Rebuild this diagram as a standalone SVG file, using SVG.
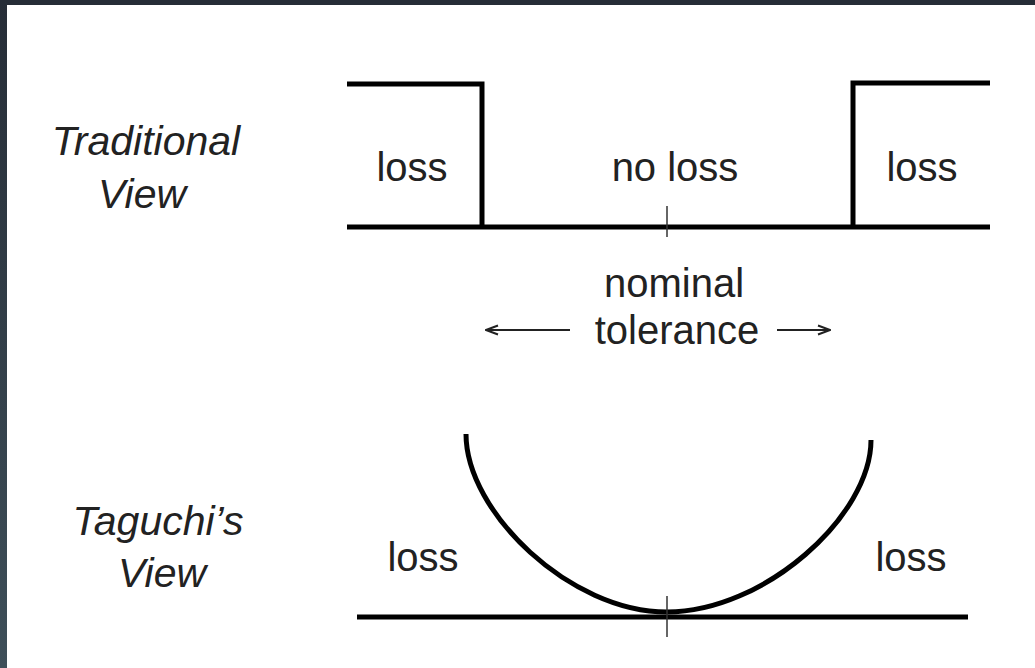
<svg xmlns="http://www.w3.org/2000/svg" width="1035" height="668" viewBox="0 0 1035 668">
  <defs>
    <linearGradient id="edge" x1="0" y1="0" x2="0" y2="1">
      <stop offset="0" stop-color="#262d37"/>
      <stop offset="1" stop-color="#3e4f59"/>
    </linearGradient>
    <marker id="arr" viewBox="0 0 14 12" refX="13" refY="6" markerWidth="14" markerHeight="12" markerUnits="userSpaceOnUse" orient="auto-start-reverse">
      <path d="M1,1.5 L13,6 L1,10.5" fill="none" stroke="#222" stroke-width="2"/>
    </marker>
    <style>
      .lbl { font-family: "Liberation Sans", Arial, sans-serif; font-size: 40px; fill: #222; text-anchor: middle; }
      .ital { font-style: italic; font-size: 41px; }
      .thick { fill: none; stroke: #000; stroke-width: 5; stroke-linejoin: miter; }
      .tick { stroke: #333; stroke-width: 1.5; }
      .arrow { stroke: #222; stroke-width: 2; fill: none; }
    </style>
  </defs>
  <rect x="0" y="0" width="1035" height="668" fill="#ffffff"/>
  <rect x="0" y="0" width="1035" height="5" fill="#262d37"/>
  <rect x="0" y="0" width="7" height="668" fill="url(#edge)"/>

  <g id="traditional-label">
    <text class="lbl ital" x="146" y="155">Traditional</text>
    <text class="lbl ital" x="142" y="208">View</text>
  </g>

  <g id="traditional-curve">
    <path class="thick" d="M347,84 H482 V227 M347,227 H990 M853,227 V83 H990"/>
    <line class="tick" x1="667" y1="206" x2="667" y2="237"/>
    <text class="lbl" x="412" y="181">loss</text>
    <text class="lbl" x="675" y="181">no loss</text>
    <text class="lbl" x="922" y="181">loss</text>
  </g>

  <g id="nominal-tolerance">
    <text class="lbl" x="674" y="297">nominal</text>
    <text class="lbl" x="677" y="344">tolerance</text>
  </g>

  <g id="connectors">
    <line class="arrow" x1="570" y1="330" x2="486" y2="330" marker-end="url(#arr)"/>
    <line class="arrow" x1="777" y1="330" x2="830" y2="330" marker-end="url(#arr)"/>
  </g>

  <g id="taguchi-label">
    <text class="lbl ital" x="158" y="535">Taguchi’s</text>
    <text class="lbl ital" x="162" y="587">View</text>
  </g>

  <g id="taguchi-curve">
    <path class="thick" d="M357,617 H968"/>
    <path class="thick" d="M466,434 C466,512 570,612 667,612 C764,612 871,516 871,440"/>
    <line class="tick" x1="667" y1="596" x2="667" y2="637"/>
    <text class="lbl" x="423" y="571">loss</text>
    <text class="lbl" x="911" y="571">loss</text>
  </g>
</svg>
